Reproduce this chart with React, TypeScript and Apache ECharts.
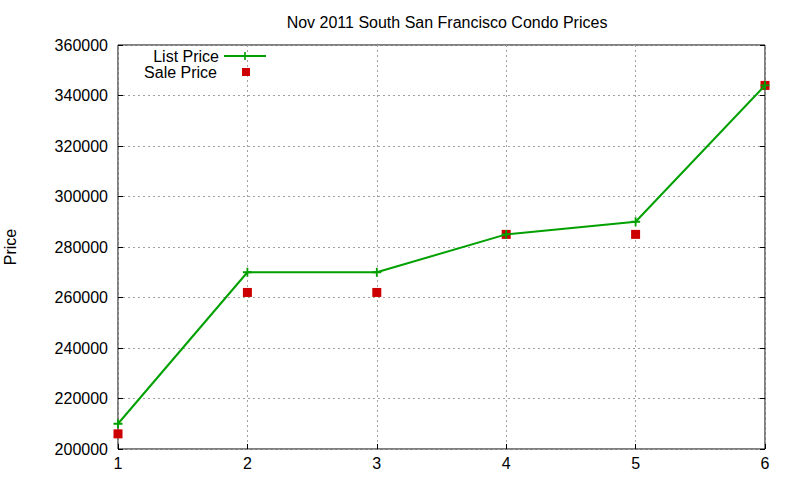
import { useEffect, useRef } from 'react';
import * as echarts from 'echarts';

const months = ['1', '2', '3', '4', '5', '6'];
const listPrice = [210000, 270000, 270000, 285000, 290000, 344000];
const salePrice = [206000, 262000, 262000, 285000, 285000, 344000];

const PLUS = 'path://M4,0 L6,0 L6,4 L10,4 L10,6 L6,6 L6,10 L4,10 L4,6 L0,6 L0,4 L4,4 Z';
const FONT = 'Liberation Sans, Arial, sans-serif';

const App = () => {
  const chartRef = useRef<HTMLDivElement>(null);

  useEffect(() => {
    if (!chartRef.current) return;
    const chart = echarts.init(chartRef.current, undefined, { renderer: 'svg' });

    const gridLine = { show: true, lineStyle: { color: '#a0a0a0', type: [2, 3] as any, width: 1 } };

    const option: echarts.EChartsOption = {
      animation: false,
      backgroundColor: '#fff',
      textStyle: { fontFamily: FONT },
      title: {
        text: 'Nov 2011 South San Francisco Condo Prices',
        left: 442,
        top: 9,
        textAlign: 'center',
        textStyle: { fontSize: 16, fontWeight: 'normal', color: '#000', fontFamily: FONT }
      },
      grid: {
        left: 118,
        right: 35,
        top: 45,
        bottom: 31,
        containLabel: false,
        outerBoundsMode: 'none',
        show: true,
        borderColor: '#000',
        borderWidth: 1
      } as any,
      legend: [
        {
          data: ['List Price'],
          right: 533,
          top: 48,
          padding: 0,
          align: 'right',
          itemWidth: 42,
          itemHeight: 10,
          itemGap: 0,
          textStyle: { fontSize: 16, color: '#000', fontFamily: FONT }
        },
        {
          data: ['Sale Price'],
          right: 550,
          top: 64,
          padding: 0,
          align: 'right',
          itemWidth: 8,
          itemHeight: 8,
          textStyle: { fontSize: 16, color: '#000', fontFamily: FONT, padding: [0, 20, 0, 0] }
        }
      ],
      xAxis: {
        type: 'category',
        data: months,
        boundaryGap: false,
        axisLine: { show: false },
        axisTick: { show: true, inside: true, length: 5, lineStyle: { color: '#000' } },
        axisLabel: { color: '#000', fontSize: 16, margin: 6, fontFamily: FONT },
        splitLine: gridLine
      },
      yAxis: [
        {
          type: 'value',
          min: 200000,
          max: 360000,
          interval: 20000,
          name: 'Price',
          nameLocation: 'middle',
          nameRotate: 90,
          nameGap: 100,
          nameTextStyle: { fontSize: 16, color: '#000', fontFamily: FONT },
          axisLine: { show: false },
          axisTick: { show: true, inside: true, length: 5, lineStyle: { color: '#000' } },
          axisLabel: {
            color: '#000',
            fontSize: 16,
            margin: 10,
            fontFamily: FONT,
            formatter: (v: number) => String(v)
          },
          splitLine: gridLine
        },
        {
          type: 'value',
          position: 'right',
          min: 200000,
          max: 360000,
          interval: 20000,
          axisLine: { show: false },
          axisTick: { show: true, inside: true, length: 5, lineStyle: { color: '#000' } },
          axisLabel: { show: false },
          splitLine: { show: false }
        }
      ],
      series: [
        {
          name: 'List Price',
          type: 'line',
          data: listPrice,
          symbol: PLUS,
          symbolSize: 9,
          lineStyle: { color: '#00a000', width: 2 },
          itemStyle: { color: '#00a000' }
        },
        {
          name: 'Sale Price',
          type: 'scatter',
          data: salePrice,
          symbol: 'rect',
          symbolSize: 9,
          itemStyle: { color: '#cc0000', opacity: 1 }
        }
      ]
    };

    chart.setOption(option);

    return () => {
      chart.dispose();
    };
  }, []);

  return (
    <div
      ref={chartRef}
      style={{ position: 'fixed', left: 0, top: 0, width: 800, height: 480 }}
    />
  );
};

export default App;
